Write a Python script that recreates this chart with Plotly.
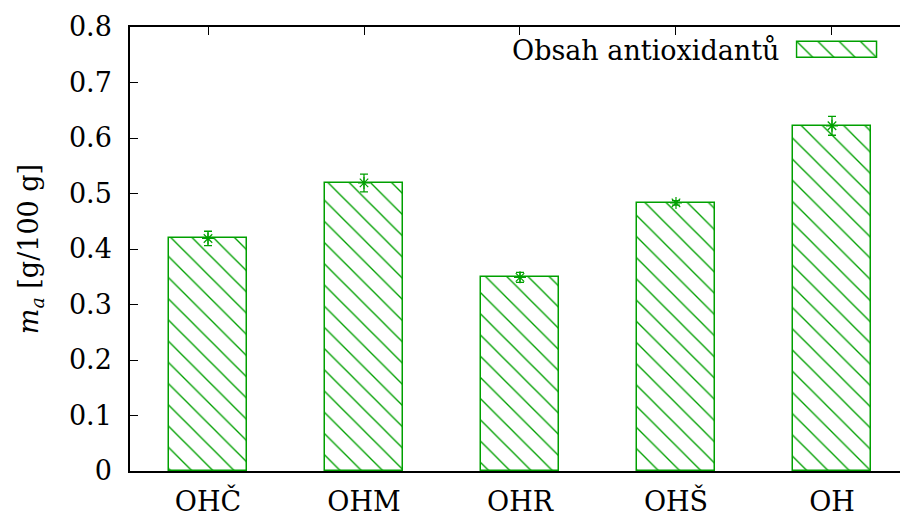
import plotly.graph_objects as go

# Antioxidant content per sample, mean and error
categories = ["OHČ", "OHM", "OHR", "OHŠ", "OH"]
values = [0.419, 0.519, 0.349, 0.483, 0.622]
errors = [0.013, 0.016, 0.009, 0.004, 0.017]
y_ticks = [0, 0.1, 0.2, 0.3, 0.4, 0.5, 0.6, 0.7, 0.8]
y_tick_text = ["0", "0.1", "0.2", "0.3", "0.4", "0.5", "0.6", "0.7", "0.8"]
legend_label = "Obsah antioxidantů"

GREEN = "#00a000"
FONT = "DejaVu Serif"
FSIZE = 27
xpos = list(range(len(categories)))

hatch = dict(shape="\\", size=15, solidity=0.09, fgcolor=GREEN, bgcolor="white", fillmode="replace")

fig = go.Figure()

fig.add_trace(go.Bar(
    x=xpos, y=values, width=0.5,
    marker=dict(color="white", pattern=hatch, line=dict(color=GREEN, width=1.5)),
    showlegend=False,
))

fig.add_trace(go.Scatter(
    x=xpos, y=values, mode="markers",
    marker=dict(symbol="asterisk-open", size=10, color=GREEN, line=dict(color=GREEN, width=1.2)),
    error_y=dict(type="data", array=errors, color=GREEN, thickness=1.3, width=4),
    showlegend=False,
))

# legend sample box: a small hatched bar on its own hidden axes
fig.add_trace(go.Bar(
    x=[0], y=[1], width=1, xaxis="x3", yaxis="y3",
    marker=dict(color="white", pattern=hatch, line=dict(color=GREEN, width=1.5)),
    showlegend=False, hoverinfo="skip",
))

fig.add_annotation(
    text=legend_label, xref="paper", yref="paper",
    x=0.845, y=0.948, xanchor="right", yanchor="middle",
    showarrow=False, font=dict(family=FONT, size=FSIZE, color="black"),
)

fig.update_layout(
    width=900, height=517,
    margin=dict(l=130, r=0, t=27, b=46),
    paper_bgcolor="white", plot_bgcolor="white",
    font=dict(family=FONT, size=FSIZE, color="black"),
    bargap=0,
    xaxis=dict(
        range=[-0.5, 4.436], tickvals=xpos, ticktext=categories,
        ticks="", showline=True, linecolor="black", linewidth=1.5, mirror=True,
        showgrid=False, zeroline=False, ticklabelstandoff=6,
    ),
    xaxis2=dict(
        overlaying="x", side="top", matches="x", range=[-0.5, 4.436],
        tickvals=xpos, showticklabels=False, ticks="inside", ticklen=8,
        tickcolor="black", tickwidth=1, showgrid=False, zeroline=False, showline=False,
    ),
    yaxis=dict(
        range=[0, 0.8], tickvals=y_ticks, ticktext=y_tick_text,
        ticks="inside", ticklen=8, tickcolor="black", tickwidth=1,
        showline=True, linecolor="black", linewidth=1.5, mirror=True,
        showgrid=False, zeroline=False, ticklabelstandoff=11,
        title=dict(text="<i>m</i><sub><i>a</i></sub> [g/100 g]", standoff=22,
                   font=dict(family=FONT, size=FSIZE)),
        automargin=False,
    ),
    # a little padding so the sample box outline is not clipped
    xaxis3=dict(domain=[0.864, 0.972], range=[-0.52, 0.52], visible=False, anchor="y3"),
    yaxis3=dict(domain=[0.927, 0.971], range=[-0.12, 1.12], visible=False, anchor="x3"),
)

# invisible trace to activate the top tick axis
fig.add_trace(go.Scatter(x=[0], y=[0], xaxis="x2", mode="markers",
                         marker=dict(opacity=0), showlegend=False, hoverinfo="skip"))

fig.write_html("out.html")
